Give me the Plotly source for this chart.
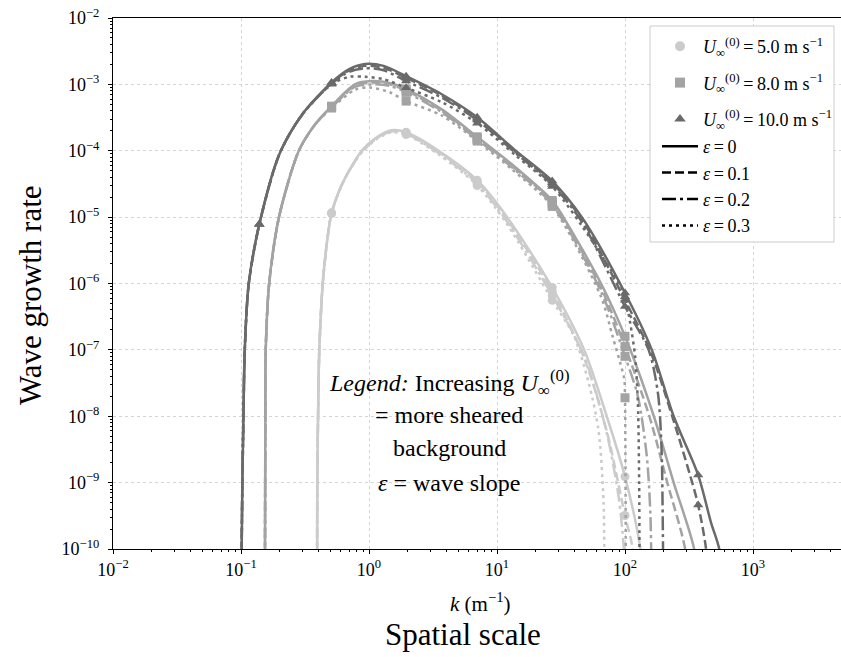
import numpy as np
import plotly.graph_objects as go

FONT = "Liberation Serif"

# ---------------- data ----------------
MARKER_K = [0.139, 0.51, 1.95, 7.0, 27.0, 100.0, 373.0]
U_LABELS = ["5.0", "8.0", "10.0"]
EPS_LABELS = ["0", "0.1", "0.2", "0.3"]
X_TICK_EXP = [-2, -1, 0, 1, 2, 3]
Y_TICK_EXP = [-10, -9, -8, -7, -6, -5, -4, -3, -2]

# U = 5 m/s : shared rise, then one tail per epsilon
K_RISE_U5 = [0.393, 0.3945, 0.400, 0.409, 0.435, 0.475, 0.51, 0.6, 0.7]
G_RISE_U5 = [1e-11, 1e-9, 1e-8, 1e-7, 1e-6, 5e-6, 1.15e-5, 2.8e-5, 5e-5]
K_U5_E0 = [0.877, 1.15, 1.5, 1.95, 3.5, 7.0, 12, 27, 48, 72, 100, 132, 145]
G_U5_E0 = [1.0e-4, 1.6e-4, 2.04e-4, 1.9e-4, 1.0e-4, 3.6e-5, 1.0e-5, 8.7e-7, 1.0e-7, 1.0e-8, 1.23e-9, 1.0e-10, 1e-11]
K_U5_E1 = [0.877, 1.15, 1.5, 1.95, 3.5, 7.0, 12, 27, 48, 72, 100, 115, 125]
G_U5_E1 = [9.8e-5, 1.57e-4, 2.0e-4, 1.85e-4, 9.6e-5, 3.4e-5, 9.2e-6, 7.6e-7, 7.5e-8, 6.0e-9, 3.2e-10, 1.0e-10, 1e-11]
K_U5_E2 = [0.877, 1.15, 1.5, 1.95, 3.5, 7.0, 12, 27, 48, 71, 89, 98, 104]
G_U5_E2 = [9.6e-5, 1.54e-4, 1.95e-4, 1.8e-4, 9.2e-5, 3.2e-5, 8.5e-6, 6.6e-7, 8.0e-8, 6.3e-9, 6.3e-10, 1.0e-10, 1e-11]
K_U5_E3 = [0.877, 1.15, 1.5, 1.95, 3.5, 7.0, 12, 27, 40, 52, 62, 68, 69]
G_U5_E3 = [9.4e-5, 1.5e-4, 1.9e-4, 1.75e-4, 8.8e-5, 3.0e-5, 7.8e-6, 5.6e-7, 1.6e-7, 3.2e-8, 6.3e-9, 5e-10, 1e-11]

# U = 8 m/s
K_RISE_U8 = [0.1535, 0.1545, 0.155, 0.156, 0.166, 0.198, 0.283, 0.38]
G_RISE_U8 = [1e-11, 1e-9, 1e-8, 1e-7, 1e-6, 1e-5, 1e-4, 2.5e-4]
K_U8_E0 = [0.51, 0.776, 1.05, 1.45, 1.95, 3.7, 7.0, 13, 27, 33, 65, 100, 168, 240, 347, 400]
G_U8_E0 = [4.7e-4, 1.0e-3, 1.12e-3, 1.05e-3, 8.5e-4, 4.2e-4, 1.62e-4, 6.3e-5, 1.78e-5, 1.0e-5, 1.0e-6, 1.6e-7, 1.0e-8, 1.0e-9, 1.0e-10, 1e-11]
K_U8_E1 = [0.51, 0.776, 1.05, 1.45, 1.95, 3.7, 7.0, 13, 27, 65, 100, 155, 214, 295, 330]
G_U8_E1 = [4.6e-4, 9.6e-4, 1.07e-3, 1.0e-3, 8.1e-4, 4.0e-4, 1.55e-4, 6.0e-5, 1.65e-5, 8.5e-7, 1.12e-7, 1.0e-8, 1.0e-9, 1.0e-10, 1e-11]
K_U8_E2 = [0.51, 0.776, 1.05, 1.45, 1.95, 3.7, 7.0, 13, 27, 65, 100, 126, 148, 158, 162]
G_U8_E2 = [4.5e-4, 9.2e-4, 1.0e-3, 9.5e-4, 7.6e-4, 3.8e-4, 1.48e-4, 5.7e-5, 1.55e-5, 7.5e-7, 8.0e-8, 2.0e-8, 2.5e-9, 3.2e-10, 1e-11]
K_U8_E3 = [0.51, 0.776, 1.0, 1.45, 1.95, 3.7, 7.0, 13, 27, 65, 80, 95, 99, 100, 101, 101.5]
G_U8_E3 = [4.4e-4, 8.3e-4, 9.0e-4, 7.6e-4, 5.6e-4, 3.4e-4, 1.4e-4, 5.3e-5, 1.45e-5, 6.3e-7, 1.6e-7, 5.0e-8, 3.5e-8, 1.9e-8, 1e-9, 1e-11]

# U = 10 m/s
K_RISE_U10 = [0.1000, 0.1025, 0.1045, 0.107, 0.115, 0.139, 0.2, 0.3]
G_RISE_U10 = [1e-11, 1e-9, 1e-8, 1e-7, 1e-6, 7.8e-6, 9.0e-5, 3.5e-4]
K_U10_E0 = [0.51, 0.7, 0.93, 1.3, 1.95, 3.7, 7.0, 14, 27, 46, 100, 162, 240, 373, 470, 545, 600]
G_U10_E0 = [1.07e-3, 1.7e-3, 2.03e-3, 1.9e-3, 1.33e-3, 7.1e-4, 3.2e-4, 1.0e-4, 3.5e-5, 1.0e-5, 7.2e-7, 1.0e-7, 1.0e-8, 1.3e-9, 2.5e-10, 1.0e-10, 2e-11]
K_U10_E1 = [0.51, 0.7, 0.93, 1.3, 1.95, 3.7, 7.0, 14, 27, 46, 100, 160, 234, 335, 373, 430, 470]
G_U10_E1 = [1.05e-3, 1.62e-3, 1.9e-3, 1.78e-3, 1.25e-3, 6.8e-4, 3.05e-4, 9.6e-5, 3.3e-5, 9.3e-6, 5.6e-7, 8.9e-8, 1.0e-8, 1.0e-9, 4.6e-10, 1.0e-10, 1e-11]
K_U10_E2 = [0.51, 0.7, 0.93, 1.3, 1.95, 3.7, 7.0, 14, 27, 46, 100, 153, 181, 193, 197, 200]
G_U10_E2 = [1.02e-3, 1.55e-3, 1.75e-3, 1.63e-3, 1.12e-3, 6.3e-4, 2.9e-4, 9.2e-5, 3.1e-5, 8.5e-6, 4.5e-7, 1.0e-7, 2.2e-8, 3.2e-9, 3.2e-10, 1e-11]
K_U10_E3 = [0.51, 0.7, 0.93, 1.3, 1.95, 3.7, 7.0, 14, 27, 46, 93, 100, 110, 120, 126, 129, 130]
G_U10_E3 = [1.0e-3, 1.3e-3, 1.3e-3, 1.2e-3, 8.9e-4, 5.4e-4, 2.6e-4, 8.5e-5, 2.9e-5, 7.4e-6, 8.9e-7, 6.3e-7, 2.5e-7, 7.9e-8, 1.6e-8, 1e-9, 1e-11]

RISES = [(K_RISE_U5, G_RISE_U5), (K_RISE_U8, G_RISE_U8), (K_RISE_U10, G_RISE_U10)]
TAILS = [
    [(K_U5_E0, G_U5_E0), (K_U5_E1, G_U5_E1), (K_U5_E2, G_U5_E2), (K_U5_E3, G_U5_E3)],
    [(K_U8_E0, G_U8_E0), (K_U8_E1, G_U8_E1), (K_U8_E2, G_U8_E2), (K_U8_E3, G_U8_E3)],
    [(K_U10_E0, G_U10_E0), (K_U10_E1, G_U10_E1), (K_U10_E2, G_U10_E2), (K_U10_E3, G_U10_E3)],
]

# ---------------- styles ----------------
COLORS = ["#cbcbcb", "#a3a3a3", "#6a6a6a"]
SYMBOLS = ["circle", "square", "triangle-up"]
DASHES = ["solid", "9px,4px", "14px,4px,3px,4px", "3px,4px"]
LW = 2.5
YMIN = 1e-10

fig = go.Figure()

for i in range(3):
    kr, gr = RISES[i]
    for j in range(4):
        kt, gt = TAILS[i][j]
        k = np.array(kr + kt, dtype=float)
        g = np.array(gr + gt, dtype=float)
        fig.add_trace(go.Scatter(
            x=k, y=g, mode="lines",
            line=dict(color=COLORS[i], width=LW, dash=DASHES[j], shape="spline", smoothing=0.8),
            showlegend=False, hoverinfo="skip"))
        sel = np.array([np.any(np.isclose(kk, MARKER_K, rtol=1e-6)) for kk in k]) & (g >= YMIN)
        fig.add_trace(go.Scatter(
            x=k[sel], y=g[sel], mode="markers",
            marker=dict(color=COLORS[i], symbol=SYMBOLS[i], size=9),
            showlegend=False, hoverinfo="skip"))

# legend entries
for i in range(3):
    fig.add_trace(go.Scatter(
        x=[None], y=[None], mode="markers",
        marker=dict(color=COLORS[i], symbol=SYMBOLS[i], size=10),
        name="<i>U</i><sub>∞</sub><sup>(0)</sup>\u2009=\u2009" + U_LABELS[i] + " m s<sup>−1</sup>",
        legend="legend", legendgroup=f"u{i}"))
for j in range(4):
    fig.add_trace(go.Scatter(
        x=[None], y=[None], mode="lines",
        line=dict(color="black", width=LW, dash=DASHES[j]),
        name="<i>ε</i>\u2009=\u2009" + EPS_LABELS[j],
        legend="legend2", legendgroup=f"e{j}"))

W, H = 841, 657
L, R, T, B = 113, 0, 18, 108
PW, PH = W - L - R, H - T - B


def px(x):
    return (x - L) / PW


def py(y):
    return 1 - (y - T) / PH


def pow_label(e):
    return "10<sup>" + ("−" + str(-e) if e < 0 else str(e)) + "</sup>"


def minor_vals(e0, e1):
    return [m * 10.0 ** e for e in range(e0, e1) for m in range(2, 10)]


axis_common = dict(
    type="log", showline=True, linecolor="black", linewidth=1.2,
    ticks="outside", ticklen=4, tickwidth=1, tickcolor="black",
    tickmode="array",
    showgrid=True, gridcolor="#d4d4d4", griddash="dot", gridwidth=1,
    tickfont=dict(family=FONT, size=18, color="black"),
    zeroline=False, automargin=False,
)

fig.update_layout(
    width=W, height=H,
    margin=dict(l=L, r=R, t=T, b=B, autoexpand=False),
    paper_bgcolor="white", plot_bgcolor="white",
    font=dict(family=FONT, color="black"),
    xaxis=dict(axis_common, range=[-2, -2 + PW / 128.0], mirror=True,
               tickvals=[10.0 ** e for e in X_TICK_EXP],
               ticktext=[pow_label(e) for e in X_TICK_EXP],
               minor=dict(tickmode="array", tickvals=minor_vals(-2, 4), ticks="outside",
                          ticklen=2, tickcolor="black", showgrid=False)),
    yaxis=dict(axis_common, range=[-10, -2], ticklabelstandoff=5,
               tickvals=[10.0 ** e for e in Y_TICK_EXP],
               ticktext=[pow_label(e) for e in Y_TICK_EXP],
               minor=dict(tickmode="array", tickvals=minor_vals(-10, -2), ticks="outside",
                          ticklen=2, tickcolor="black", showgrid=False)),
    legend=dict(x=px(657), y=py(28), xanchor="left", yanchor="top",
                bgcolor="rgba(0,0,0,0)", borderwidth=0, itemwidth=36,
                font=dict(family=FONT, size=18, color="black"),
                traceorder="grouped", tracegroupgap=10),
    legend2=dict(x=px(657), y=py(128), xanchor="left", yanchor="top",
                 bgcolor="rgba(0,0,0,0)", borderwidth=0, itemwidth=36,
                 font=dict(family=FONT, size=18, color="black"),
                 traceorder="grouped", tracegroupgap=0),
    shapes=[dict(type="rect", xref="paper", yref="paper",
                 x0=px(650), x1=px(834), y0=py(242), y1=py(26),
                 line=dict(color="#cccccc", width=1), fillcolor="white", layer="above")],
)

ann_lines = [
    ("<i>Legend:</i> Increasing <i>U</i><sub>∞</sub><sup>(0)</sup>", 383),
    ("= more sheared", 415),
    ("background", 448),
    ("<i>ε</i> = wave slope", 483),
]
for txt, yy in ann_lines:
    fig.add_annotation(text=txt, xref="paper", yref="paper", x=px(449), y=py(yy),
                       xanchor="center", yanchor="middle", showarrow=False,
                       font=dict(family=FONT, size=24, color="black"))

fig.add_annotation(text="<i>k</i> (m<sup>−1</sup>)", xref="paper", yref="paper",
                   x=px(480), y=py(602), xanchor="center", yanchor="middle",
                   showarrow=False, font=dict(family=FONT, size=21, color="black"))
fig.add_annotation(text="Spatial scale", xref="paper", yref="paper",
                   x=px(463), y=py(634), xanchor="center", yanchor="middle",
                   showarrow=False, font=dict(family=FONT, size=31, color="black"))
fig.add_annotation(text="Wave growth rate", xref="paper", yref="paper",
                   x=px(30), y=py(295), xanchor="center", yanchor="middle",
                   textangle=-90, showarrow=False,
                   font=dict(family=FONT, size=31, color="black"))

fig.write_html("out.html",
               config={"displayModeBar": False},
               post_script="document.body.style.margin='0';document.body.style.overflow='hidden';")
